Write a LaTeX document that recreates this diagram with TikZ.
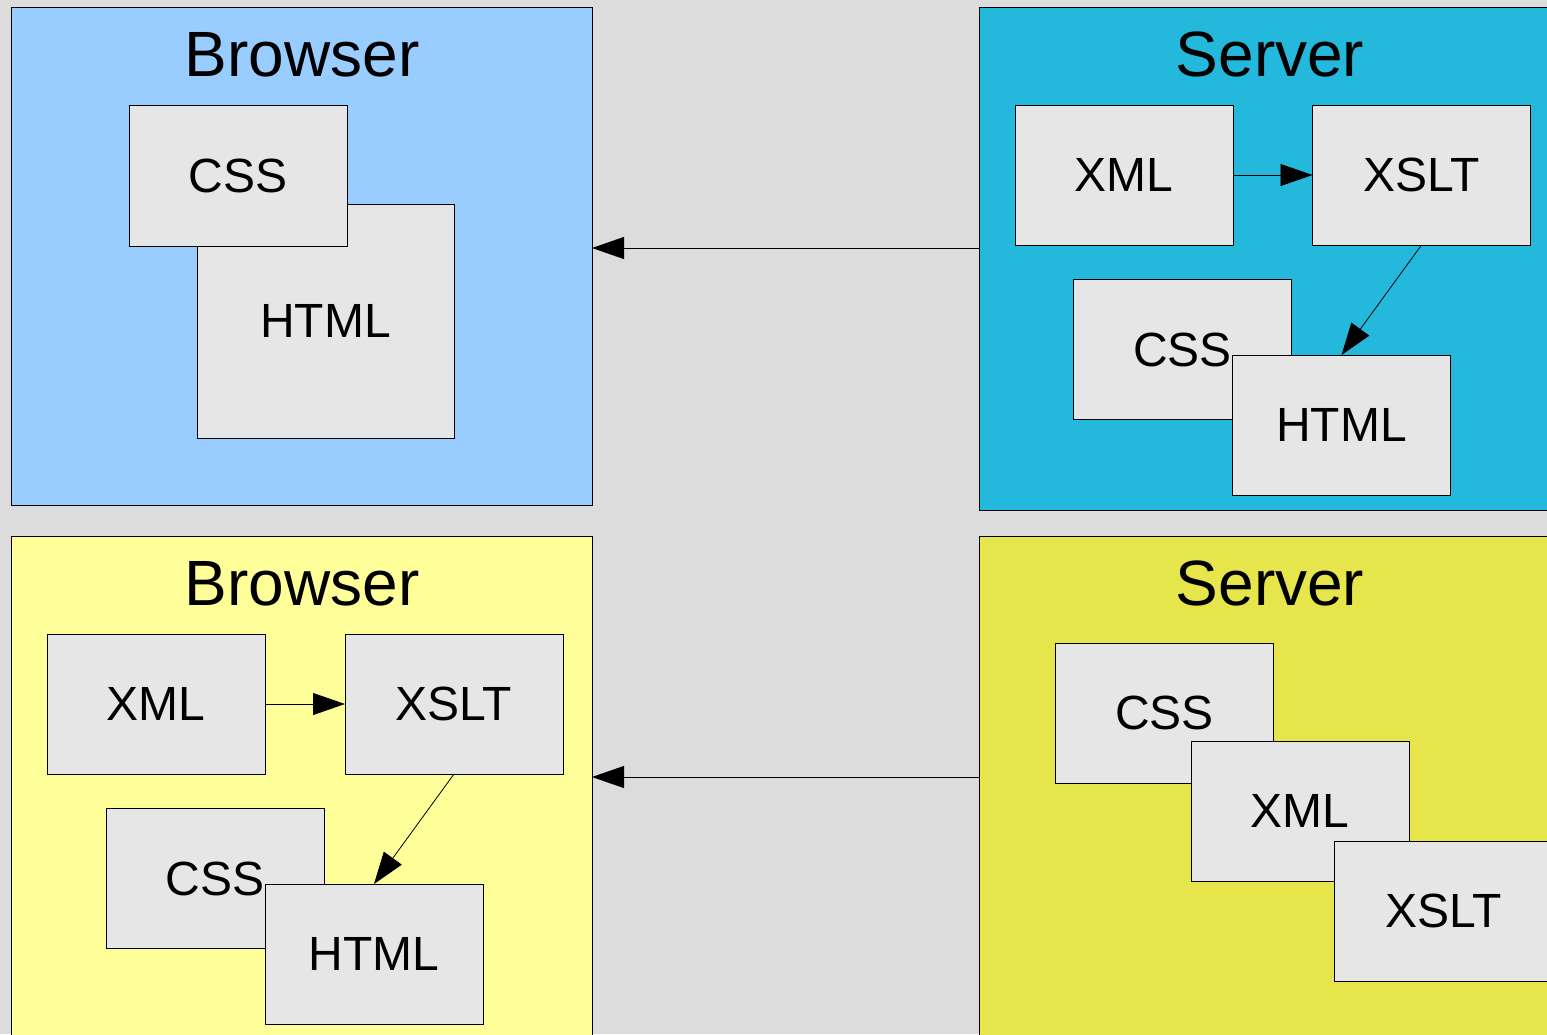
\documentclass[tikz,border=0pt]{standalone}
\usepackage{fontspec}
\setmainfont{Liberation Sans}
\usetikzlibrary{arrows.meta}
\definecolor{bggray}{HTML}{DCDCDC}
\definecolor{boxgray}{HTML}{E6E6E6}
\definecolor{browserblue}{HTML}{99CCFF}
\definecolor{servercyan}{HTML}{23B8DC}
\definecolor{browseryellow}{HTML}{FFFF99}
\definecolor{serveryellow}{HTML}{E6E64C}
\tikzset{
  panel/.style={draw=black, line width=1pt, inner sep=0, outer sep=0,
    minimum width=581pt},
  paneltitle/.style={anchor=base, inner sep=0,
    font=\fontsize{64}{70}\selectfont},
  part/.style={draw=black, line width=1pt, fill=boxgray, inner sep=0,
    outer sep=0, minimum width=218pt, minimum height=140pt,
    font=\fontsize{48}{54}\selectfont},
  flow/.style={line width=1pt, -{Triangle[length=32pt,width=22pt]}},
  inflow/.style={line width=0.8pt, -{Triangle[length=32pt,width=22pt]}}
}
\begin{document}
\begin{tikzpicture}[x=1pt,y=-1pt]
\useasboundingbox (0,0) rectangle (1547,1034);
\clip (0,0) rectangle (1547,1034);
\fill[bggray] (0,0) rectangle (1547,1034);

% panels
\node[panel, fill=browserblue, minimum height=498pt] (btop) at (301.5,256) {};
\node[panel, fill=servercyan, minimum height=503pt] (stop) at (1269.5,258.5) {};
\node[panel, fill=browseryellow, minimum height=504pt] (bbot) at (301.5,788) {};
\node[panel, fill=serveryellow, minimum height=504pt] (sbot) at (1269.5,788) {};

% transfer from server to browser
\coordinate (sendtop) at (979,248);
\coordinate (sendbot) at (979,777);
\draw[flow] (sendtop) -- (sendtop -| btop.east);
\draw[flow] (sendbot) -- (sendbot -| bbot.east);

% titles
\node[paneltitle] (btopT) at (302,76) {Browser};
\node[paneltitle] (stopT) at (1270,76) {Server};
\node[paneltitle] (bbotT) at (302,605) {Browser};
\node[paneltitle] (sbotT) at (1270,605) {Server};

% browser (top): HTML with CSS
\node[part, minimum width=257pt, minimum height=234pt] (bthtml) at (325.5,321) {HTML};
\node[part, minimum height=141pt] (btcss) at (238,175.5) {CSS};

% server (top): XML + XSLT -> HTML, CSS
\node[part] (stxml) at (1124,175) {XML};
\node[part] (stxslt) at (1421.5,175) {XSLT};
\node[part] (stcss) at (1182.5,349.5) {CSS};
\node[part] (sthtml) at (1341.5,425) {HTML};
\draw[inflow] (stxml.east) -- (stxslt.west);
\draw[inflow] (stxslt.south) -- (sthtml.north);

% browser (bottom): XML + XSLT -> HTML, CSS
\node[part] (bbxml) at (156,704) {XML};
\node[part] (bbxslt) at (454,704) {XSLT};
\node[part] (bbcss) at (215,878.5) {CSS};
\node[part] (bbhtml) at (374,954) {HTML};
\draw[inflow] (bbxml.east) -- (bbxslt.west);
\draw[inflow] (bbxslt.south) -- (bbhtml.north);

% server (bottom): CSS, XML, XSLT
\node[part] (sbcss) at (1164.5,713) {CSS};
\node[part] (sbxml) at (1300,811) {XML};
\node[part] (sbxslt) at (1443.5,911) {XSLT};
\end{tikzpicture}
\end{document}
